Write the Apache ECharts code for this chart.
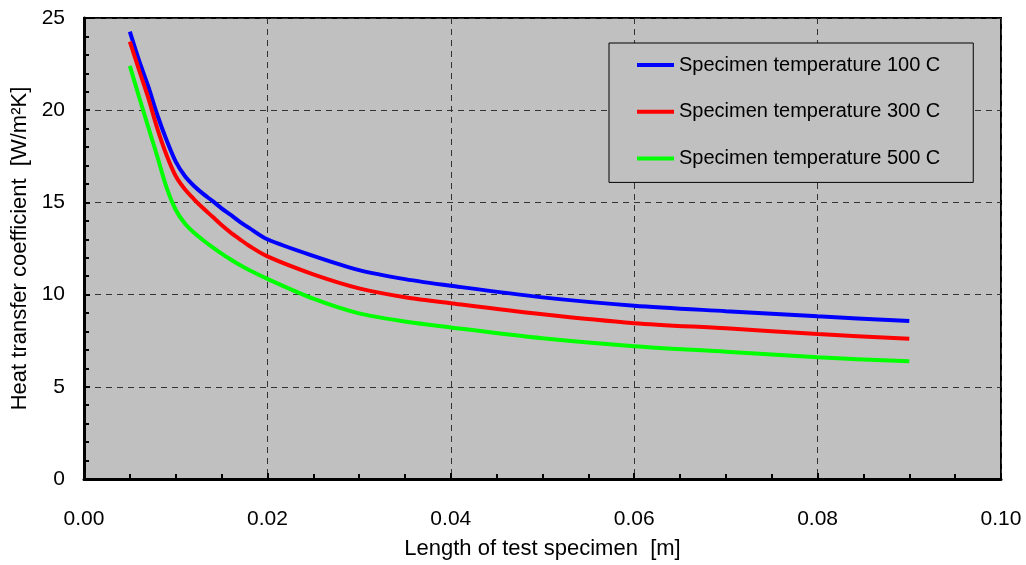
<!DOCTYPE html>
<html>
<head>
<meta charset="utf-8">
<script src="https://cdn.jsdelivr.net/npm/echarts@6/dist/echarts.min.js"></script>
<style>html,body{margin:0;padding:0;background:#fff;}#c{width:1026px;height:565px;}</style>
</head>
<body>
<div id="c"></div>
<script>
var lengths = [0.005, 0.006, 0.007, 0.008, 0.009, 0.010, 0.011, 0.012, 0.013, 0.014, 0.015, 0.016, 0.017, 0.018, 0.020, 0.025, 0.030, 0.035, 0.040, 0.050, 0.060, 0.070, 0.080, 0.090];
var temp100 = [24.26, 22.7, 21.3, 19.74, 18.38, 17.21, 16.43, 15.89, 15.46, 15.08, 14.68, 14.32, 13.95, 13.62, 13.0, 12.1, 11.33, 10.84, 10.48, 9.85, 9.40, 9.10, 8.82, 8.57];
var temp300 = [23.72, 22.18, 20.68, 19.0, 17.57, 16.43, 15.71, 15.17, 14.68, 14.23, 13.77, 13.36, 13.0, 12.65, 12.07, 11.1, 10.34, 9.86, 9.53, 8.93, 8.45, 8.17, 7.86, 7.61];
var temp500 = [22.4, 20.73, 19.1, 17.48, 15.82, 14.6, 13.85, 13.35, 12.95, 12.57, 12.22, 11.9, 11.6, 11.33, 10.85, 9.78, 8.98, 8.54, 8.22, 7.63, 7.2, 6.9, 6.6, 6.38];
var seriesNames = ['Specimen temperature 100 C', 'Specimen temperature 300 C', 'Specimen temperature 500 C'];
var seriesColors = ['#0000ff', '#ff0000', '#00ff00'];

function pairs(ys) { return lengths.map(function (x, i) { return [x, ys[i]]; }); }
var allY = [temp100, temp300, temp500];

var font = 'Arial, "Liberation Sans", sans-serif';
var chart = echarts.init(document.getElementById('c'), null, { renderer: 'canvas' });
chart.setOption({
  animation: false,
  backgroundColor: '#ffffff',
  grid: { left: 84, right: 25, top: 18, bottom: 86, show: true, backgroundColor: '#c0c0c0', borderColor: '#000', borderWidth: 2 },
  legend: {
    orient: 'vertical', left: 609, top: 43,
    padding: [10, 33, 12, 28],
    itemGap: 22.7,
    itemWidth: 37, itemHeight: 4,
    icon: 'rect',
    backgroundColor: '#c0c0c0', borderColor: '#000', borderWidth: 1,
    textStyle: { fontFamily: font, fontSize: 20, color: '#000', lineHeight: 24 },
    data: seriesNames
  },
  xAxis: {
    type: 'value', min: 0, max: 0.1, interval: 0.02,
    name: 'Length of test specimen  [m]', nameLocation: 'middle', nameGap: 59,
    nameTextStyle: { fontFamily: font, fontSize: 22, color: '#000' },
    axisLine: { show: true, lineStyle: { color: '#000', width: 3 } },
    axisTick: { show: true, inside: true, length: 6, lineStyle: { color: '#000', width: 2 } },
    minorTick: { show: true, splitNumber: 4, length: 5, lineStyle: { color: '#000', width: 2 } },
    axisLabel: { fontFamily: font, fontSize: 21, color: '#000', margin: 30, formatter: function (v) { return v.toFixed(2); } },
    splitLine: { show: true, lineStyle: { color: '#333', type: [6, 5], width: 1 } }
  },
  yAxis: {
    type: 'value', min: 0, max: 25, interval: 5,
    name: 'Heat transfer coefficient  [W/m\u00B2K]', nameLocation: 'middle', nameGap: 51,
    nameTextStyle: { fontFamily: font, fontSize: 22, color: '#000' },
    axisLine: { show: true, lineStyle: { color: '#000', width: 3 } },
    axisTick: { show: true, inside: true, length: 6, lineStyle: { color: '#000', width: 2 } },
    minorTick: { show: true, splitNumber: 5, length: 5, lineStyle: { color: '#000', width: 2 } },
    axisLabel: { fontFamily: font, fontSize: 21, color: '#000', margin: 19 },
    splitLine: { show: true, lineStyle: { color: '#333', type: [6, 5], width: 1 } }
  },
  series: seriesNames.map(function (n, i) {
    return {
      name: n, type: 'line', smooth: 0.3, showSymbol: false,
      color: seriesColors[i],
      lineStyle: { width: 4, color: seriesColors[i] },
      data: pairs(allY[i])
    };
  })
});
</script>
</body>
</html>
